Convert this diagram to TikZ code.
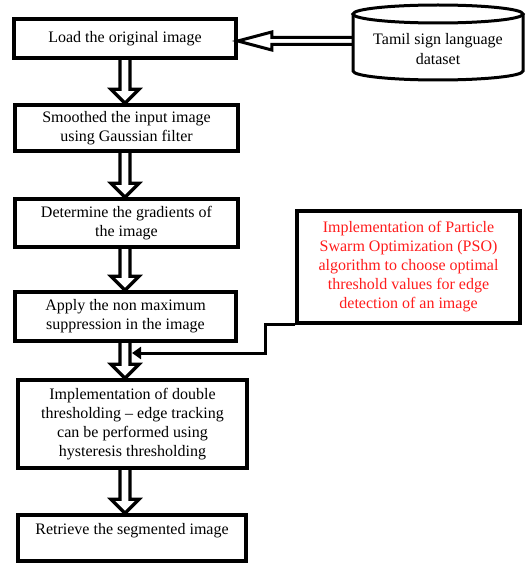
\documentclass[tikz,border=0pt]{standalone}
\usepackage{fontspec}
\setmainfont{Liberation Serif}
\usetikzlibrary{arrows.meta,calc}
\definecolor{psored}{RGB}{255,28,28}
\begin{document}
\begin{tikzpicture}[x=1pt,y=-1pt,
  txtfont/.style={font=\fontsize{16}{19}\selectfont},
  box/.style={draw,line width=3.5pt,inner sep=0pt,align=center,txtfont},
  lbl/.style={inner sep=0pt,align=center,txtfont},
  varrow/.style={line width=3.2pt,line join=miter,
    to path={let \p1=(\tikztostart),\p2=(\tikztotarget) in
      (\x1-5pt,\y1) -- (\x1-5pt,\y2+14pt) -- (\x1-14pt,\y2+14pt) -- (\x1,\y2)
      -- (\x1+14pt,\y2+14pt) -- (\x1+5pt,\y2+14pt) -- (\x1+5pt,\y1)}},
  harrow/.style={line width=3pt,line join=miter,
    to path={let \p1=(\tikztostart),\p2=(\tikztotarget) in
      (\x1,\y1+3.5pt) -- (\x2+34pt,\y1+3.5pt) -- (\x2+34pt,\y1+9pt) -- (\x2,\y1)
      -- (\x2+34pt,\y1-9pt) -- (\x2+34pt,\y1-3.5pt) -- (\x1,\y1-3.5pt)}},
  link/.style={line width=3pt,-{Triangle[length=9pt,width=12pt]}}
]
\useasboundingbox (0,0) rectangle (525,567);

% boxes
\node[box,minimum width=222pt,minimum height=39pt] (b1) at (125,38.5) {Load the original image};
\node[box,minimum width=223pt,minimum height=46pt] (b2) at (126.5,128) {Smoothed the input image\\using Gaussian filter};
\node[box,minimum width=223pt,minimum height=48pt] (b3) at (126.5,223) {Determine the gradients of\\the image};
\node[box,minimum width=221pt,minimum height=49pt] (b4) at (125.5,316.5) {Apply the non maximum\\suppression in the image};
\node[box,minimum width=229pt,minimum height=88pt] (b5) at (132.5,424) {Implementation of double\\thresholding -- edge tracking\\can be performed using\\hysteresis thresholding};
\node[box,minimum width=228pt,minimum height=46pt] (b6) at (132,538) {};
\node[lbl] (t6) at (132,531) {Retrieve the segmented image};
\node[box,minimum width=223pt,minimum height=112pt,text=psored] (pso) at (408.5,267)
  {Implementation of Particle\\Swarm Optimization (PSO)\\algorithm to choose optimal\\threshold values for edge\\detection of an image};

% dataset cylinder
\draw[line width=3pt] (353,14) -- (353,71) arc[start angle=180,end angle=360,x radius=85pt,y radius=9pt] -- (523,14);
\draw[line width=3pt] (438,14) ellipse[x radius=85pt,y radius=9pt];
\node[lbl,font=\fontsize{16}{20}\selectfont] (ds) at (438,49) {Tamil sign language\\dataset};
\coordinate (dsw) at (353,41);

% hollow arrows
\draw[harrow] (dsw) to (b1.east);
\draw[varrow] (b1.south) to (b2.north -| b1.south);
\draw[varrow] (b2.south -| b1.south) to (b3.north -| b1.south);
\draw[varrow] (b3.south -| b1.south) to (b4.north -| b1.south);
\draw[varrow] (b4.south -| b1.south) to (b5.north -| b1.south);
\draw[varrow] (b5.south -| b1.south) to (b6.north -| b1.south);

% PSO link
\coordinate (tipc) at (132,353);
\draw[link] (pso.south west) -- ++(-30,0) |- (tipc);
\end{tikzpicture}
\end{document}
